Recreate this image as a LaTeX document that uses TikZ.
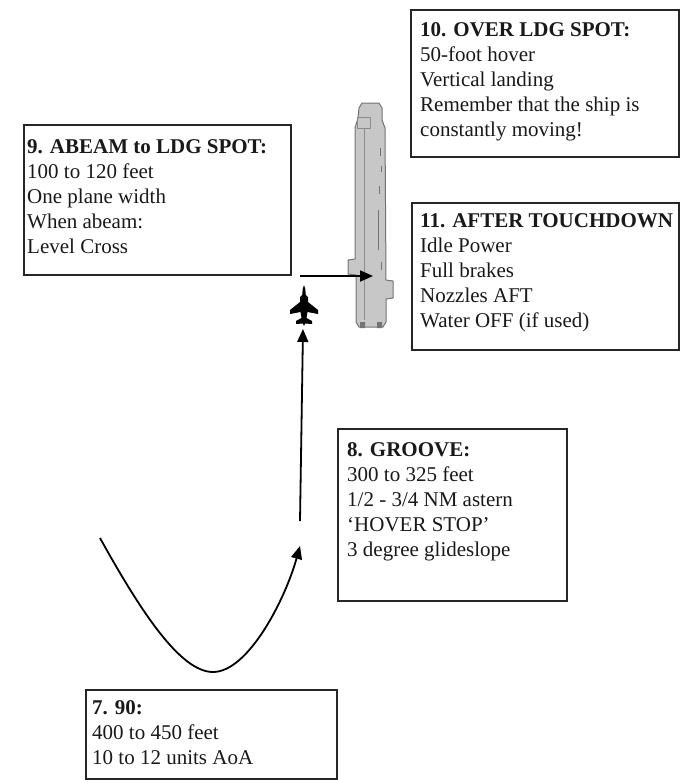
\documentclass[tikz,border=0pt]{standalone}
\usepackage{fontspec}
\setmainfont{Liberation Serif}
\usetikzlibrary{arrows.meta}
\begin{document}
\begin{tikzpicture}[x=1pt,y=-1pt,
  panel/.style={draw=black!85,line width=2pt,inner sep=0pt,anchor=north west},
  notes/.style={inner sep=0pt,anchor=north west,align=left,text=black!90,
                font=\fontsize{21}{25}\selectfont},
  flight/.style={line width=1.8pt,-{Triangle[length=13pt,width=11pt]}},
  hull/.style={fill=black!22,draw=black!55,line width=1pt,line join=round},
  deckmark/.style={draw=black!45,line width=0.8pt},
]
\useasboundingbox (0,0) rectangle (681,780);

% ---------- carrier deck, seen from above ----------
\draw[hull] (362,103) -- (379,103) -- (382,108) -- (382,120) -- (385,128)
  -- (386,280) -- (393,281) -- (393,298) -- (386,299) -- (386,322)
  -- (383,327) -- (359,327) -- (356,322) -- (356,275) -- (348,274)
  -- (348,260) -- (355,259) -- (355,128) -- (358,118) -- (359,108) -- cycle;
\draw[deckmark] (357,117) rectangle (370,128);
\draw[deckmark] (364,128) -- (364,320);
\draw[deckmark,black!55] (380,148) -- (380,156) (381,166) -- (381,172)
  (379,186) -- (379,194) (378,210) -- (378,250) (381,262) -- (381,270);
\fill[black!55] (360,322) rectangle (365,328) (377,322) rectangle (382,328);

% ---------- aircraft ----------
\fill[black] (304,285) -- (305.3,289) -- (305.8,295) -- (308,297) -- (308,302)
  -- (318,310) -- (318,314) -- (307.5,312) -- (306.5,318) -- (312,321)
  -- (312,324) -- (305,323.5) -- (304,326) -- (303,323.5) -- (296,324)
  -- (296,321) -- (301.5,318) -- (300.5,312) -- (290,314) -- (290,310)
  -- (300,302) -- (300,297) -- (302.2,295) -- (302.7,289) -- cycle;

% ---------- flight path ----------
\coordinate (turn0) at (100,538);
\coordinate (turn1) at (300,546);
\coordinate (groove0) at (300,521);
\coordinate (groove1) at (303,329);
\coordinate (cross0) at (300,276);
\coordinate (cross1) at (373,276);

\draw[flight] (turn0) .. controls (140,610) and (180,672) .. (213,672)
  .. controls (248,672) and (285,600) .. (turn1);
\draw[flight] (groove0) -- (groove1);
\draw[flight] (cross0) -- (cross1);

% ---------- callout panels ----------
\node[panel,minimum width=267pt,minimum height=150pt] (b9) at (23,124) {};
\node[notes] (t9) at (27,139.8) {\textbf{9. ABEAM to LDG SPOT:}\\100 to 120 feet\\One plane width\\When abeam:\\Level Cross};

\node[panel,minimum width=268pt,minimum height=147pt] (b10) at (410,9) {};
\node[notes] (t10) at (420,22.8) {\textbf{10. OVER LDG SPOT:}\\50-foot hover\\Vertical landing\\Remember that the ship is\\constantly moving!};

\node[panel,minimum width=267pt,minimum height=147pt] (b11) at (411,202) {};
\node[notes] (t11) at (420,213.8) {\textbf{11. AFTER TOUCHDOWN}\\Idle Power\\Full brakes\\Nozzles AFT\\Water OFF (if used)};

\node[panel,minimum width=229pt,minimum height=172pt] (b8) at (337,428) {};
\node[notes] (t8) at (347,442.8) {\textbf{8. GROOVE:}\\300 to 325 feet\\1/2 - 3/4 NM astern\\`HOVER STOP'\\3 degree glideslope};

\node[panel,minimum width=251pt,minimum height=89pt] (b7) at (85,689) {};
\node[notes] (t7) at (92,700.8) {\textbf{7. 90:}\\400 to 450 feet\\10 to 12 units AoA};
\end{tikzpicture}
\end{document}
